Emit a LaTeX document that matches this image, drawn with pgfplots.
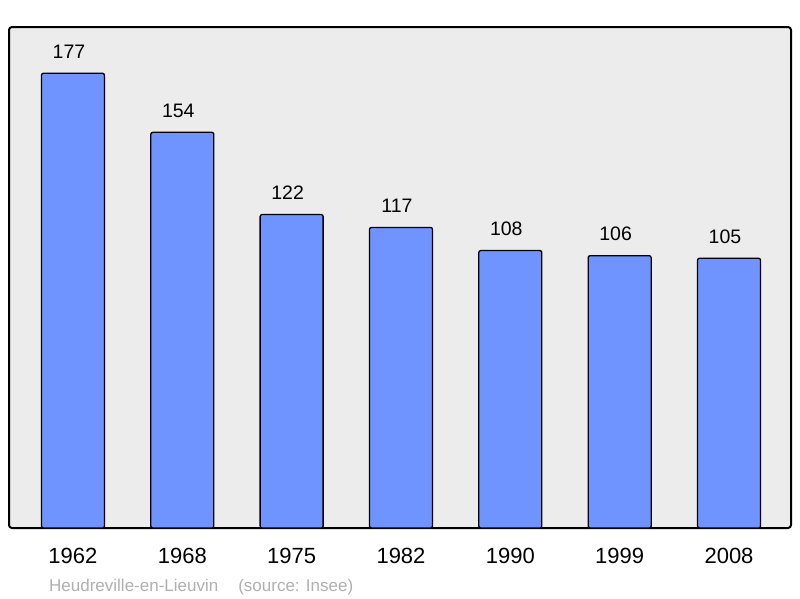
\documentclass[border=0pt]{standalone}
\usepackage{fontspec}
\setmainfont{Liberation Sans}
\usepackage{pgfplots}
\pgfplotsset{compat=1.18}
\definecolor{barblue}{HTML}{7094FF}
\definecolor{bggray}{HTML}{ECECEC}
\definecolor{srcgray}{HTML}{B0B0B0}
\begin{document}
\begin{tikzpicture}
\useasboundingbox (-9pt,-70pt) rectangle (791pt,528pt);
\begin{axis}[
    scale only axis,
    width=782pt, height=501pt,
    ybar, bar width=63pt,
    ymin=0, ymax=195,
    xmin=-0.585, xmax=6.567,
    axis background/.style={fill=bggray},
    axis line style={line width=2pt, rounded corners=3pt},
    ytick=\empty,
    xtick=data,
    xticklabels={1962,1968,1975,1982,1990,1999,2008},
    major tick length=0pt,
    xticklabel style={font=\fontsize{22}{26}\selectfont, anchor=north, inner sep=0pt, yshift=-20pt},
    /pgf/number format/assume math mode=true,
    nodes near coords,
    nodes near coords style={font=\fontsize{19.5}{23}\selectfont, anchor=base, inner sep=0pt, yshift=15pt, xshift=-4pt, black},
    clip=false,
]
\addplot[fill=barblue, draw=black, line width=1.3pt, rounded corners=2pt] coordinates {
    (0,177) (1,154) (2,122) (3,117) (4,108) (5,106) (6,105)
};
\end{axis}
\node[anchor=base west, inner sep=0pt, text=srcgray, font=\fontsize{17}{20}\selectfont] at (40pt,-63pt) {Heudreville-en-Lieuvin\hspace{20pt}(source: Insee)};
\end{tikzpicture}
\end{document}
